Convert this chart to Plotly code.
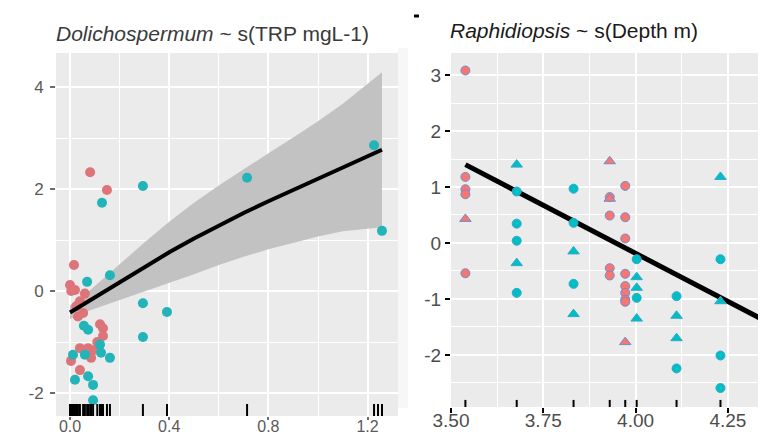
import plotly.graph_objects as go

# ---------------- data: left panel (Dolichospermum ~ s(TRP mgL-1)) ----------------
trp_salmon_x = [0.016, 0.000, 0.020, 0.005, 0.040, 0.025, 0.053, 0.032, 0.121, 0.133, 0.133,
                0.040, 0.073, 0.093, 0.004, 0.085, 0.040, 0.081, 0.149, 0.060, 0.110]
trp_salmon_y = [0.51, 0.12, 0.02, 0.00, -0.20, -0.30, -0.43, -0.50, -0.65, -0.73, -0.88,
                -1.12, -1.12, -1.16, -1.37, -1.31, -1.55, 2.33, 1.98, -0.05, -1.00]
trp_teal_x = [0.069, 0.161, 0.056, 0.073, 0.121, 0.294, 0.391, 0.294, 0.012, 0.060, 0.125,
              0.161, 0.020, 0.073, 0.093, 0.093, 0.129, 0.294, 0.714, 1.226, 1.258]
trp_teal_y = [0.18, 0.31, -0.68, -0.76, -1.05, -0.24, -0.41, -0.90, -1.25, -1.25, -1.21,
              -1.31, -1.74, -1.67, -1.84, -2.14, 1.73, 2.06, 2.22, 2.86, 1.18]
trp_rug_extra = [1.242]

trp_fit_x = [0.0, 0.05, 0.1, 0.2, 0.3, 0.4, 0.5, 0.6, 0.7, 0.8, 0.9, 1.0, 1.1, 1.2, 1.258]
trp_fit_y = [-0.42, -0.27, -0.12, 0.18, 0.47, 0.76, 1.03, 1.29, 1.53, 1.76, 1.98, 2.20, 2.42, 2.64, 2.77]
trp_fit_upper = [-0.29, -0.11, 0.10, 0.53, 0.95, 1.36, 1.73, 2.07, 2.39, 2.70, 3.01, 3.33, 3.67, 4.06, 4.29]
trp_fit_lower = [-0.55, -0.43, -0.34, -0.17, -0.01, 0.16, 0.33, 0.51, 0.67, 0.82, 0.95, 1.07, 1.17, 1.22, 1.25]

trp_xticks = [0.0, 0.4, 0.8, 1.2]
trp_xticklabels = ["0.0", "0.4", "0.8", "1.2"]
trp_yticks = [-2, 0, 2, 4]
trp_yticklabels = ["-2", "0", "2", "4"]

# ---------------- data: right panel (Raphidiopsis ~ s(Depth m)) ----------------
dep_salmon_circ_x = [3.539, 3.539, 3.539, 3.539, 3.539, 3.930, 3.930, 3.972, 3.972, 3.972,
                     3.930, 3.930, 3.972, 3.972, 3.972, 3.972, 3.972]
dep_salmon_circ_y = [3.08, 1.18, 0.96, 0.87, -0.54, 0.82, 0.49, 1.02, 0.46, 0.08,
                     -0.45, -0.58, -0.55, -0.77, -0.89, -1.01, -1.05]
dep_salmon_tri_x = [3.539, 3.930, 3.930, 3.972]
dep_salmon_tri_y = [0.43, 1.46, 0.79, -1.77]

dep_teal_circ_x = [3.678, 3.678, 3.678, 3.678, 3.832, 3.832, 3.832, 4.003, 4.003, 4.111,
                   4.111, 4.230, 4.230, 4.230, 4.368, 4.368]
dep_teal_circ_y = [0.92, 0.345, 0.04, -0.89, 0.97, 0.36, -0.73, -0.29, -0.98, -0.95,
                   -2.24, -0.29, -2.01, -2.59, -1.17, -2.65]
dep_teal_tri_x = [3.678, 3.678, 3.832, 3.832, 4.003, 4.003, 4.003, 4.111, 4.111, 4.230, 4.230]
dep_teal_tri_y = [1.40, -0.36, -0.15, -1.27, -0.61, -0.80, -1.35, -1.30, -1.70, 1.18, -1.04]

dep_fit_x = [3.539, 4.368]
dep_fit_y = [1.40, -1.45]

dep_xticks = [3.50, 3.75, 4.00, 4.25]
dep_xticklabels = ["3.50", "3.75", "4.00", "4.25"]
dep_yticks = [-2, -1, 0, 1, 2, 3]
dep_yticklabels = ["-2", "-1", "0", "1", "2", "3"]

# ---------------- layout geometry ----------------
W, H = 766, 436
FONT = "Liberation Sans, Arial, sans-serif"

def px_x(p):
    return p / W

def px_y(p):
    return 1 - p / H

L_x0, L_x1, L_y0, L_y1 = 48, 390, 45, 408
R_x0, R_x1, R_y0, R_y1 = 443, 766, 45, 399

fig = go.Figure()

# left panel
fig.add_trace(go.Scatter(
    x=trp_fit_x + trp_fit_x[::-1], y=trp_fit_upper + trp_fit_lower[::-1],
    fill="toself", fillcolor="rgb(194,194,194)", line=dict(width=0),
    mode="lines", hoverinfo="skip", showlegend=False, xaxis="x", yaxis="y"))
fig.add_trace(go.Scatter(
    x=trp_salmon_x, y=trp_salmon_y, mode="markers",
    marker=dict(size=10, color="#DC7479", line=dict(width=0)),
    showlegend=False, xaxis="x", yaxis="y"))
fig.add_trace(go.Scatter(
    x=trp_teal_x, y=trp_teal_y, mode="markers",
    marker=dict(size=10, color="#22B4B9", line=dict(width=0)),
    showlegend=False, xaxis="x", yaxis="y"))
fig.add_trace(go.Scatter(
    x=trp_fit_x, y=trp_fit_y, mode="lines", line=dict(color="black", width=4),
    showlegend=False, xaxis="x", yaxis="y"))

# right panel
fig.add_trace(go.Scatter(
    x=dep_fit_x, y=dep_fit_y, mode="lines", line=dict(color="black", width=5),
    showlegend=False, xaxis="x2", yaxis="y2"))
fig.add_trace(go.Scatter(
    x=dep_salmon_circ_x, y=dep_salmon_circ_y, mode="markers",
    marker=dict(size=9, color="#F8766D", line=dict(width=1, color="#6C8ED6")),
    showlegend=False, xaxis="x2", yaxis="y2"))
fig.add_trace(go.Scatter(
    x=dep_salmon_tri_x, y=dep_salmon_tri_y, mode="markers",
    marker=dict(size=10, symbol="triangle-up", color="#F8766D", line=dict(width=1, color="#6C8ED6")),
    showlegend=False, xaxis="x2", yaxis="y2"))
fig.add_trace(go.Scatter(
    x=dep_teal_circ_x, y=dep_teal_circ_y, mode="markers",
    marker=dict(size=9, color="#00BFC4", line=dict(width=1, color="#2FA9CC")),
    showlegend=False, xaxis="x2", yaxis="y2"))
fig.add_trace(go.Scatter(
    x=dep_teal_tri_x, y=dep_teal_tri_y, mode="markers",
    marker=dict(size=10, symbol="triangle-up", color="#00BFC4", line=dict(width=1, color="#2FA9CC")),
    showlegend=False, xaxis="x2", yaxis="y2"))

shapes = []
# rugs
left_rug = sorted(set(trp_salmon_x + trp_teal_x + trp_rug_extra))
for v in left_rug:
    shapes.append(dict(type="line", xref="x", yref="y domain", x0=v, x1=v, y0=0.0, y1=0.033,
                       line=dict(color="black", width=2)))
right_rug = sorted(set(dep_salmon_circ_x + dep_salmon_tri_x + dep_teal_circ_x + dep_teal_tri_x))
for v in right_rug:
    shapes.append(dict(type="line", xref="x2", yref="y2 domain", x0=v, x1=v, y0=0.0, y1=0.02,
                       line=dict(color="black", width=2)))
# faint strip and tiny mark seen in the reference
shapes.append(dict(type="rect", xref="paper", yref="paper", x0=px_x(390), x1=px_x(400),
                   y0=px_y(400), y1=px_y(40), fillcolor="#F7F7F7", line=dict(width=0), layer="below"))
shapes.append(dict(type="rect", xref="paper", yref="paper", x0=px_x(406), x1=px_x(411),
                   y0=px_y(9.5), y1=px_y(6.5), fillcolor="black", line=dict(width=0)))

axis_common = dict(showgrid=True, gridcolor="white", gridwidth=2, zeroline=False,
                   showline=False, ticks="outside", ticklen=5, automargin=False)

fig.update_layout(
    width=W, height=H, margin=dict(l=0, r=0, t=0, b=0, autoexpand=False),
    paper_bgcolor="white", plot_bgcolor="#EBEBEB",
    font=dict(family=FONT),
    showlegend=False,
    shapes=shapes,
    xaxis=dict(axis_common, domain=[px_x(L_x0), px_x(L_x1)], anchor="y",
               range=[-0.0565, 1.3226], tickvals=trp_xticks, ticktext=trp_xticklabels,
               tickcolor="#6b6b6b", tickwidth=1.5, ticklen=3, ticklabelstandoff=-7,
               tickfont=dict(size=16, color="#5a5a5a", family=FONT),
               minor=dict(showgrid=True, gridcolor="white", gridwidth=1, dtick=0.2, tick0=0)),
    yaxis=dict(axis_common, domain=[px_y(L_y1), px_y(L_y0)], anchor="x",
               range=[-2.45, 4.667], tickvals=trp_yticks, ticktext=trp_yticklabels,
               tickcolor="#6b6b6b", tickwidth=1.5, ticklabelstandoff=3,
               tickfont=dict(size=17, color="#5a5a5a", family=FONT),
               minor=dict(showgrid=True, gridcolor="white", gridwidth=1, dtick=1, tick0=0)),
    xaxis2=dict(axis_common, domain=[px_x(R_x0), px_x(R_x1)], anchor="y2",
                range=[3.5, 4.375], tickvals=dep_xticks, ticktext=dep_xticklabels,
                tickcolor="black", tickwidth=2, ticklabelstandoff=-9,
                tickfont=dict(size=19, color="#4D4D4D", family=FONT),
                minor=dict(showgrid=True, gridcolor="white", gridwidth=1, dtick=0.125, tick0=3.5)),
    yaxis2=dict(axis_common, domain=[px_y(R_y1), px_y(R_y0)], anchor="x2",
                range=[-2.929, 3.393], tickvals=dep_yticks, ticktext=dep_yticklabels,
                tickcolor="black", tickwidth=2,
                tickfont=dict(size=19, color="#4D4D4D", family=FONT),
                minor=dict(showgrid=True, gridcolor="white", gridwidth=1, dtick=0.5, tick0=0)),
    annotations=[
        dict(text="<i>Dolichospermum</i> ~ s(TRP mgL-1)", xref="paper", yref="paper",
             x=px_x(46), y=px_y(25), xanchor="left", yanchor="middle", showarrow=False,
             font=dict(size=21, color="#3a3a3a", family=FONT)),
        dict(text="<i>Raphidiopsis</i> ~ s(Depth m)", xref="paper", yref="paper",
             x=px_x(440), y=px_y(22), xanchor="left", yanchor="middle", showarrow=False,
             font=dict(size=21, color="#1a1a1a", family=FONT)),
    ],
)

fig.write_html("out.html")
